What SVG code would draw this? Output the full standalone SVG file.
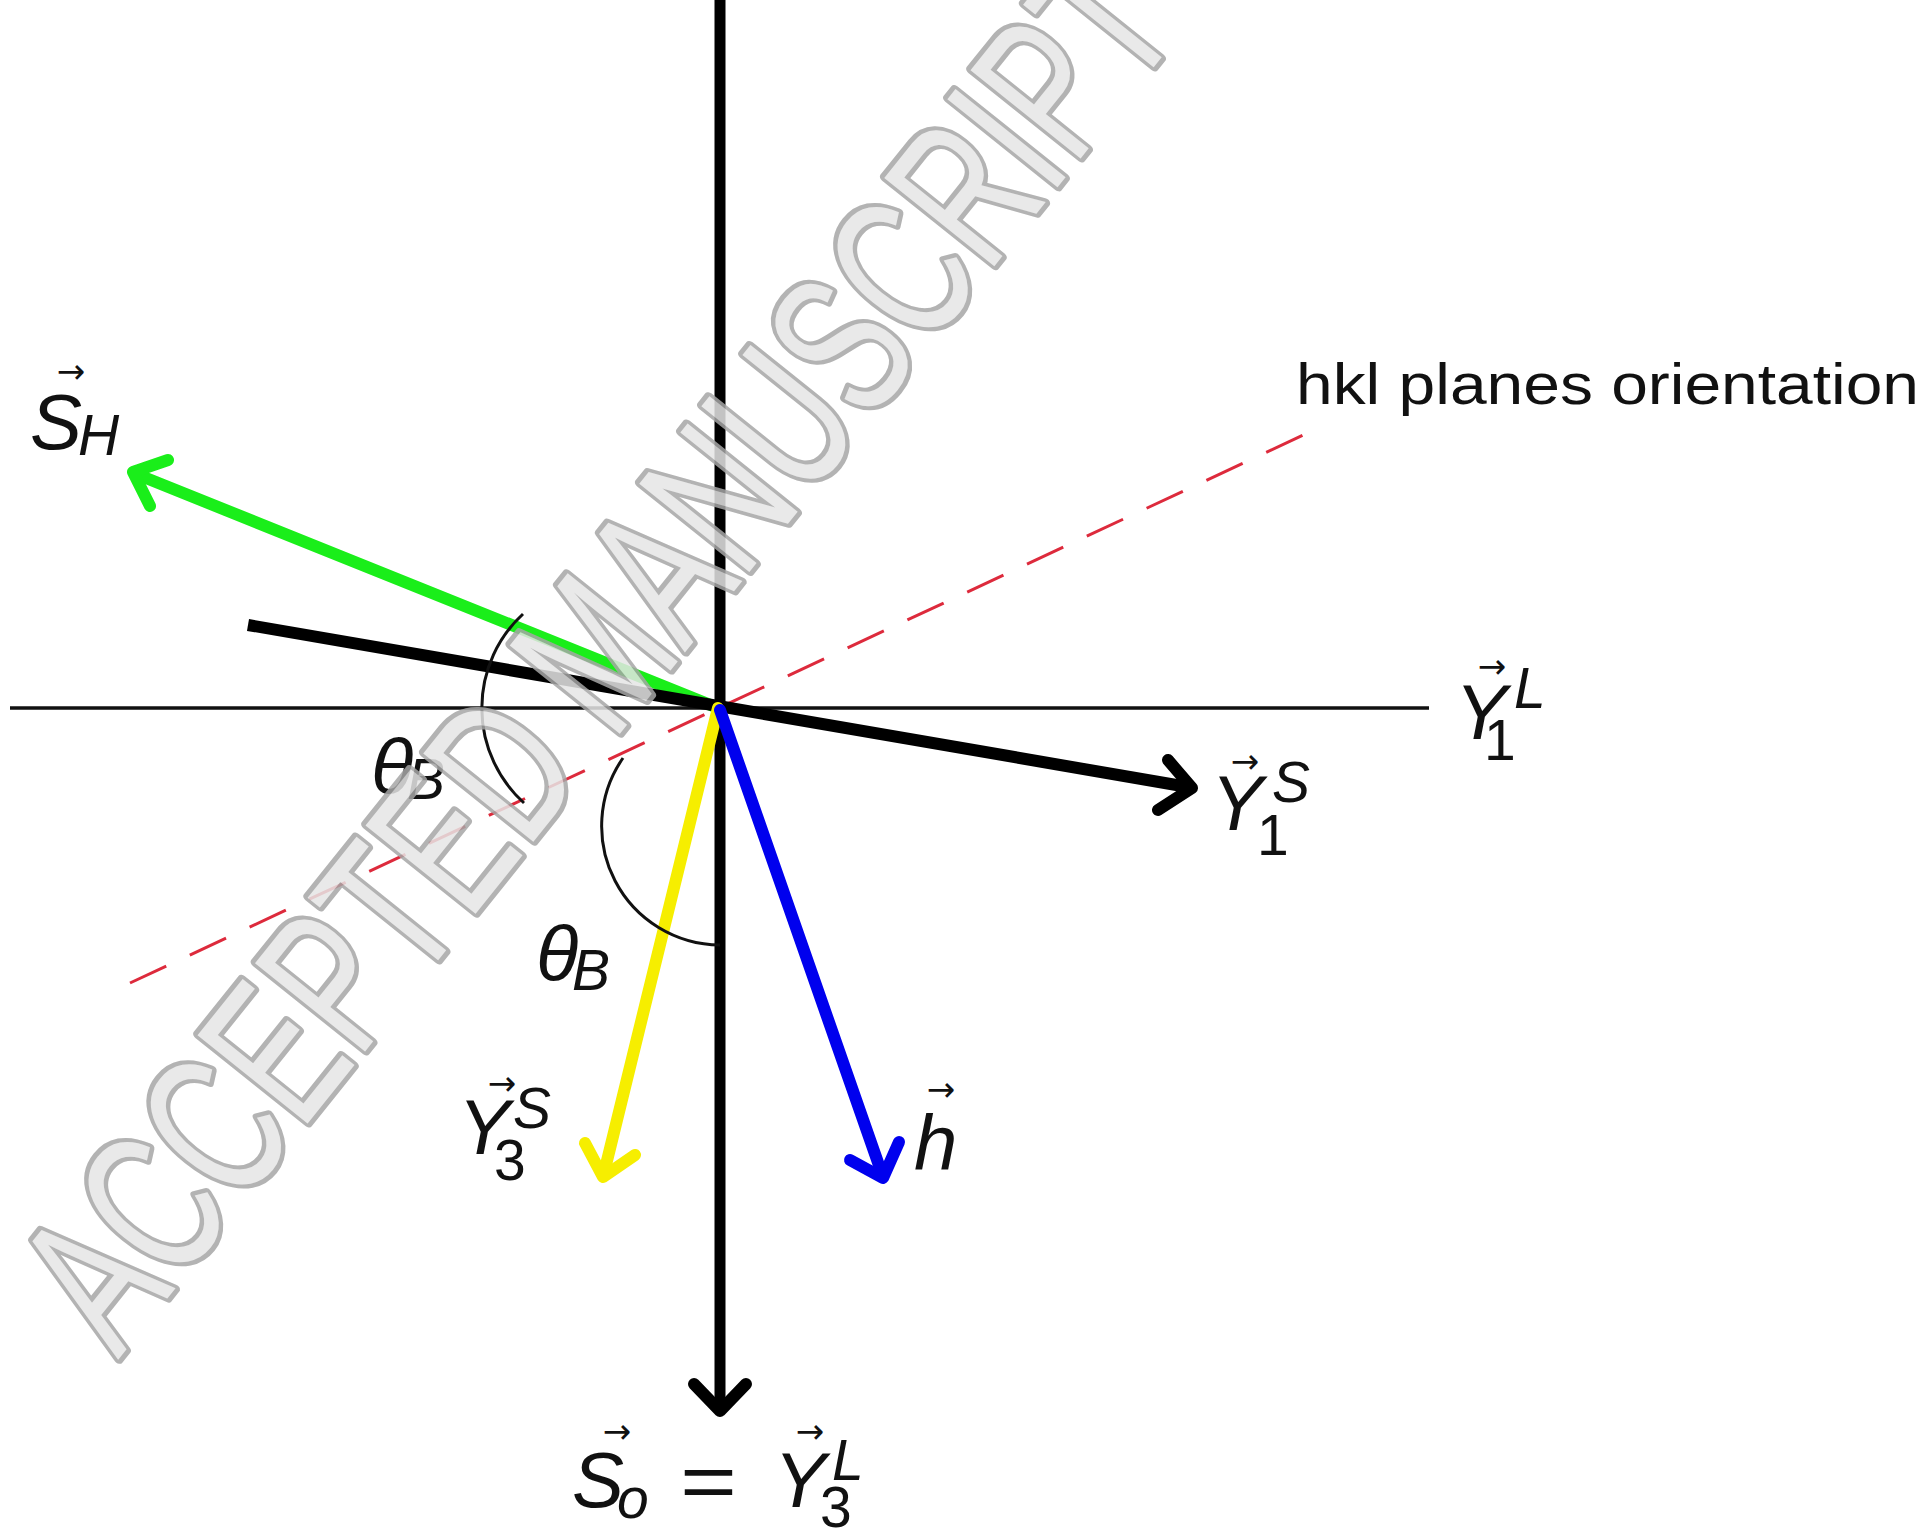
<svg xmlns="http://www.w3.org/2000/svg" width="1931" height="1533" viewBox="0 0 1931 1533">
<style>
.m{font-family:"Liberation Sans","DejaVu Sans",sans-serif;font-style:italic;fill:#111}
.u{font-family:"Liberation Sans","DejaVu Sans",sans-serif;fill:#111}
.big{font-size:78px}
.sm{font-size:57px}
.acc{font-family:"DejaVu Sans",sans-serif;font-size:34px;text-anchor:middle;fill:#111}
.ln{fill:none;stroke-linecap:round;stroke-linejoin:round;stroke-width:12}
.hd{fill:none;stroke-linecap:round;stroke-linejoin:round;stroke-width:12}
.arc{fill:none;stroke:#111;stroke-width:3}
.wm{font-family:"Liberation Sans Narrow","Liberation Sans",sans-serif;font-size:205px}
.wmo{fill:#a6a6a6;stroke:#a6a6a6;stroke-width:10;stroke-linejoin:round}
.wmi{fill:#e6e6e6}
</style>
<rect width="1931" height="1533" fill="#fff"/>
<g id="connectors">
  <line id="axis-y1l" x1="10" y1="708" x2="1429" y2="708" stroke="#111" stroke-width="3.5"/>
  <line id="hkl-planes" x1="130" y1="983" x2="1312" y2="431" stroke="#dd2a3c" stroke-width="3" stroke-dasharray="40 26"/>
  <line id="axis-so" x1="720" y1="0" x2="720" y2="1406" stroke="#000" stroke-width="11"/>
  <polyline points="694,1384 720,1411 746,1384" class="hd" stroke="#000"/>
  <line id="vec-sh" x1="718" y1="708" x2="136" y2="474" class="ln" stroke="#1aee1a"/>
  <polyline points="168,460 133,472 150,506" class="hd" stroke="#1aee1a"/>
  <line id="vec-y1s" x1="248" y1="625" x2="1188" y2="787" stroke="#000" stroke-width="12"/>
  <polyline points="1168,760 1192,788 1158,810" class="hd" stroke="#000"/>
  <line id="vec-y3s" x1="718" y1="708" x2="604" y2="1173" class="ln" stroke="#f6ee00"/>
  <polyline points="585,1143 603,1177 635,1155" class="hd" stroke="#f6ee00"/>
  <line id="vec-h" x1="720" y1="710" x2="882" y2="1174" class="ln" stroke="#0000ee"/>
  <polyline points="850,1160 883,1178 899,1142" class="hd" stroke="#0000ee"/>
  <path id="arc-theta1" d="M 524 803 A 128 128 0 0 1 523 614" class="arc"/>
  <path id="arc-theta2" d="M 623 758 A 119 119 0 0 0 720 945" class="arc"/>
</g>
<g id="label-sh">
  <text class="acc" x="71" y="383">→</text>
  <text class="m big" x="30" y="449">S</text>
  <text class="m sm" x="78" y="455">H</text>
</g>
<g id="label-theta1">
  <text class="m big" x="371" y="794">θ</text>
  <text class="m sm" x="407" y="799">B</text>
</g>
<g id="label-theta2">
  <text class="m big" x="536" y="981">θ</text>
  <text class="m sm" x="572" y="990">B</text>
</g>
<g id="label-y3s">
  <text class="acc" x="502" y="1095">→</text>
  <text class="m big" x="458" y="1154">Y</text>
  <text class="m sm" x="513" y="1128">S</text>
  <text class="u sm" x="494" y="1180">3</text>
</g>
<g id="label-h">
  <text class="acc" x="941" y="1101">→</text>
  <text class="m big" x="914" y="1170">h</text>
</g>
<g id="label-y1l">
  <text class="acc" x="1492" y="678">→</text>
  <text class="m big" x="1455" y="739">Y</text>
  <text class="m sm" x="1514" y="708">L</text>
  <text class="u sm" x="1484" y="760">1</text>
</g>
<g id="label-y1s">
  <text class="acc" x="1245" y="773">→</text>
  <text class="m big" x="1211" y="830">Y</text>
  <text class="m sm" x="1272" y="802">S</text>
  <text class="u sm" x="1257" y="855">1</text>
</g>
<g id="label-so">
  <text class="acc" x="617" y="1443">→</text>
  <text class="m big" x="572" y="1507">S</text>
  <text class="m sm" x="617" y="1518">o</text>
  <text class="u big" x="680" y="1508" textLength="57" lengthAdjust="spacingAndGlyphs">=</text>
  <text class="acc" x="810" y="1443">→</text>
  <text class="m big" x="774" y="1507">Y</text>
  <text class="m sm" x="832" y="1480">L</text>
  <text class="u sm" x="820" y="1527">3</text>
</g>
<g id="label-hkl">
  <text class="u" x="1296" y="404" font-size="58" textLength="623" lengthAdjust="spacingAndGlyphs">hkl planes orientation</text>
</g>
<g id="watermark" opacity="0.85">
  <text class="wm wmo" transform="translate(118,1360) rotate(-51.3)" textLength="1705" lengthAdjust="spacingAndGlyphs">ACCEPTED MANUSCRIPT</text>
  <text class="wm wmi" transform="translate(118,1360) rotate(-51.3)" textLength="1705" lengthAdjust="spacingAndGlyphs">ACCEPTED MANUSCRIPT</text>
</g>
</svg>
